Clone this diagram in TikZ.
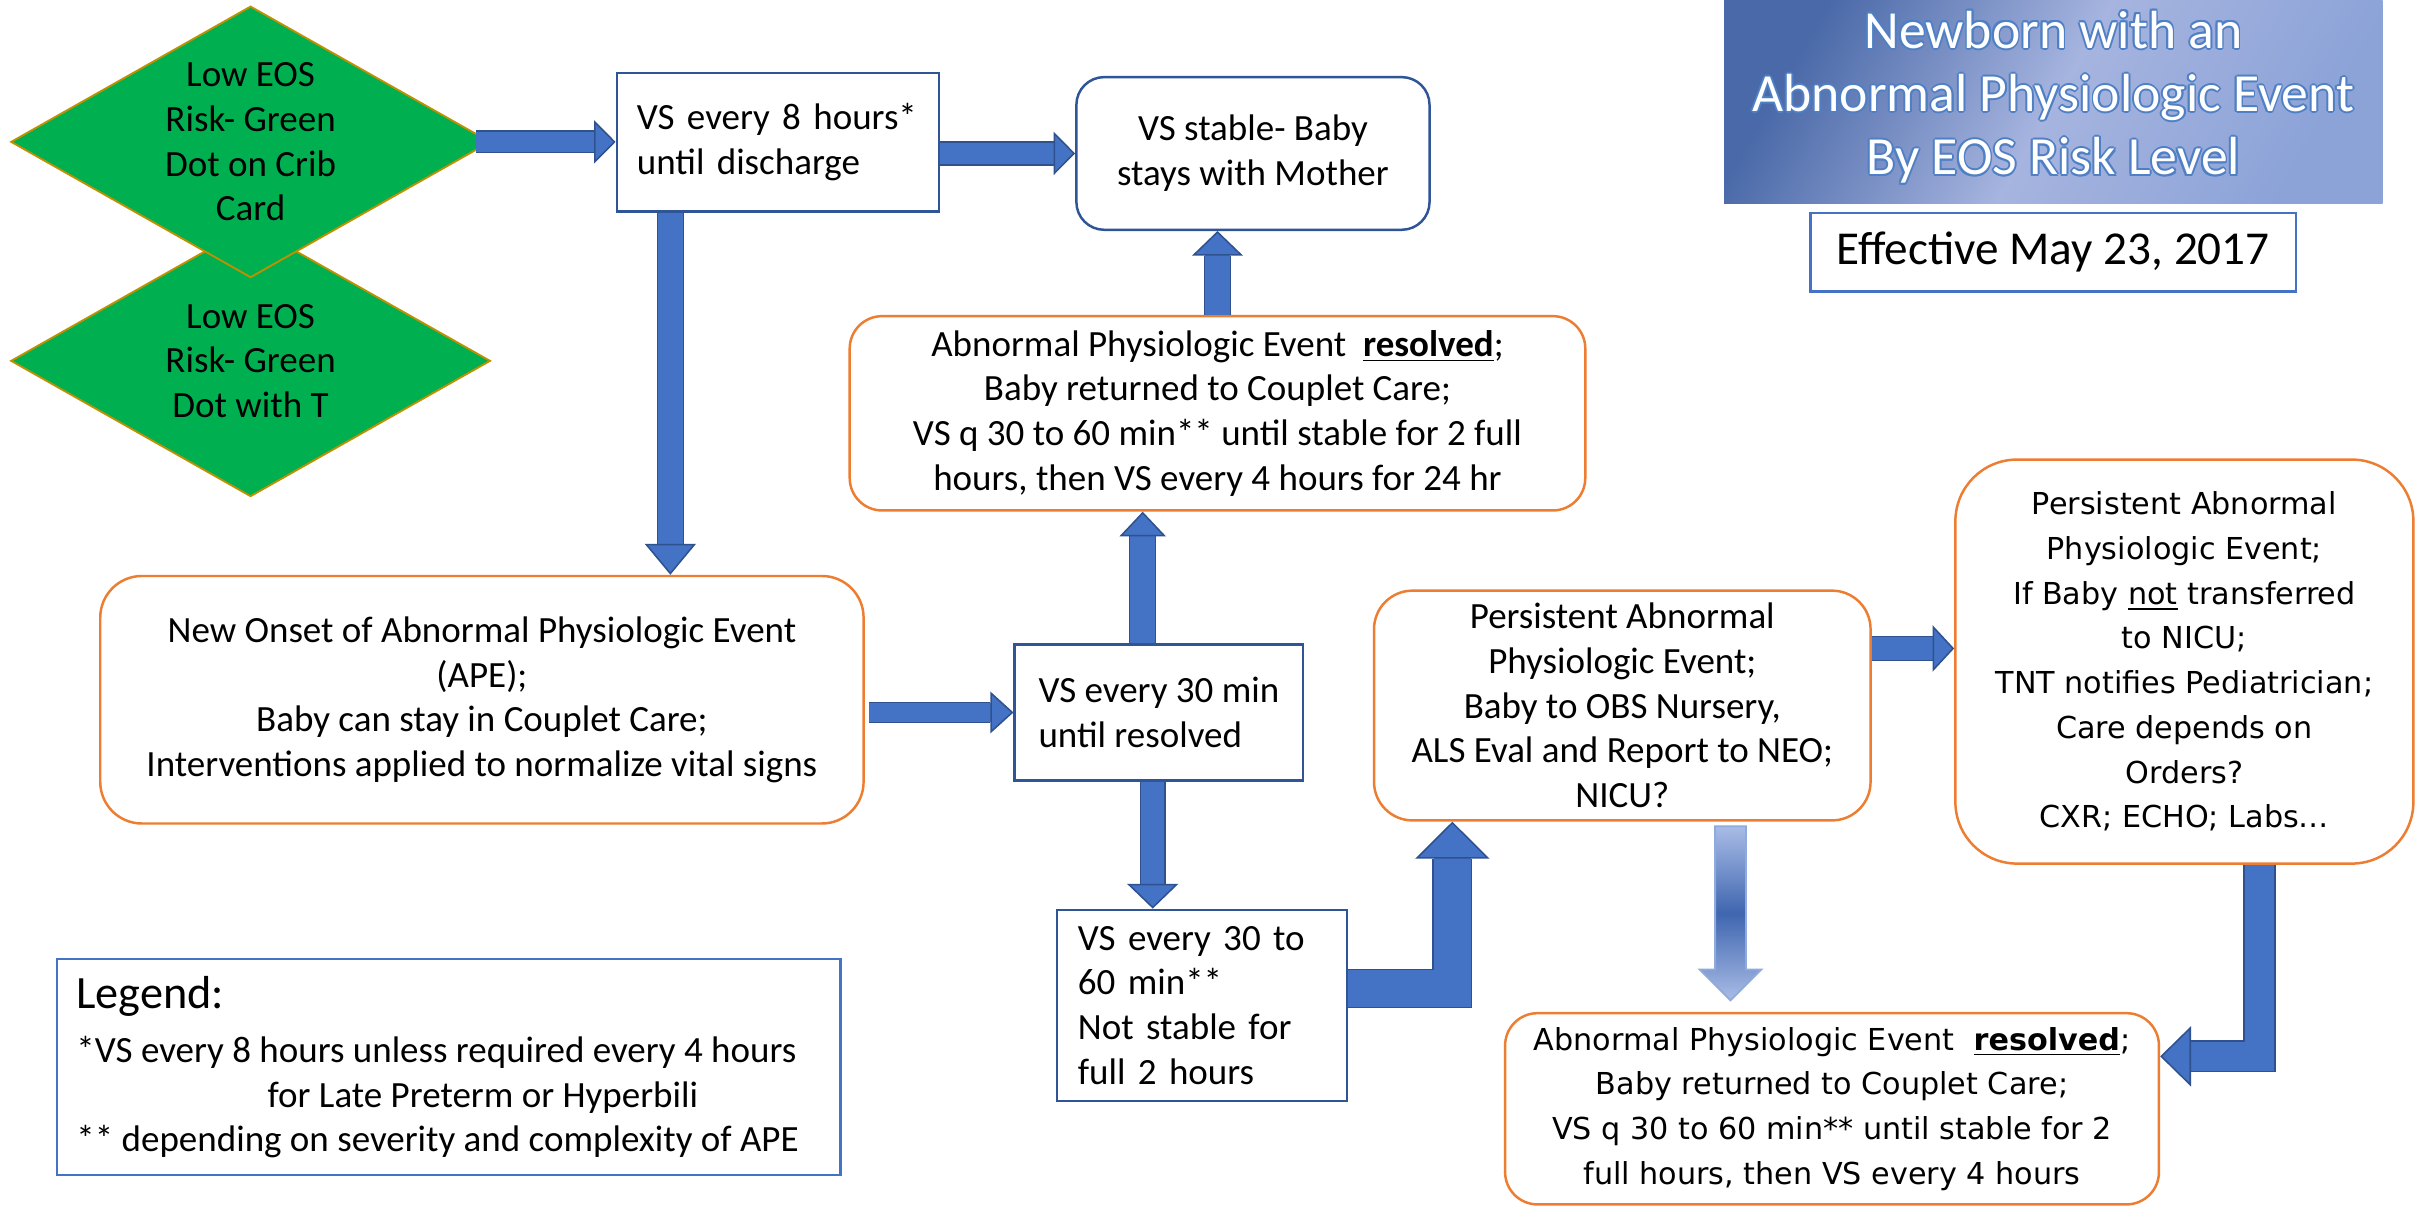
\documentclass[tikz,border=0pt]{standalone}
\usepackage{fontspec}
\setmainfont{Carlito}
\newfontfamily\verdfont{DejaVu Sans}
\usepackage{xcolor}
\usetikzlibrary{shapes.geometric,arrows.meta,calc,positioning}

\definecolor{arrowfill}{HTML}{4472C4}
\definecolor{arrowedge}{HTML}{2F528F}
\definecolor{boxblue}{HTML}{2F5597}
\definecolor{liteblue}{HTML}{4472C4}
\definecolor{boxorange}{HTML}{ED7D31}
\definecolor{dotgreen}{HTML}{00B050}
\definecolor{dotedge}{HTML}{BF9000}
\definecolor{titledark}{HTML}{4A69A8}
\definecolor{titlelite}{HTML}{A6B4DF}
\definecolor{titlemid}{HTML}{8CA3D8}
\definecolor{titleglow}{HTML}{4F7FC4}
\definecolor{gradlite}{HTML}{A9BCE6}
\definecolor{graddark}{HTML}{3F66B0}
\definecolor{gradedge}{HTML}{8FAADC}

\begin{document}
\begin{tikzpicture}[x=0.5pt,y=-0.5pt,
  txt/.style={font=\fontsize{12}{14.5}\selectfont},
  verd/.style={font=\verdfont\fontsize{9.8}{14.5}\selectfont},
  dot/.style={diamond,aspect=1.77,fill=dotgreen,draw=dotedge,line width=0.6pt,minimum width=155.5pt,minimum height=88pt,inner sep=0pt,align=center,txt},
  vsbox/.style={rectangle,draw=boxblue,line width=0.8pt,inner xsep=6.5pt,inner ysep=0pt,align=left,txt},
  rbox/.style={rectangle,rounded corners=#1,draw=boxorange,line width=0.8pt,inner sep=0pt,align=center,txt},
  titletxt/.style={align=center,inner sep=0pt,font=\fontsize{17.4}{20.5}\selectfont},
  blkarrow/.style n args={3}{draw=arrowfill,line width=#1,line join=miter,
    -{Triangle[width=#2,length=#3,line width=0.5pt,fill=arrowfill,color=arrowedge]},
    preaction={draw=arrowedge,line width=#1+0.9pt,arrows=-,shorten >=#3}}]
\path[fill=white,use as bounding box] (0,0) rectangle (1568,783);

\node[dot] (dwitht) at (162.5,234) {Low EOS\\Risk- Green\\Dot with T};
\node[dot] (dcrib) at (162.5,92) {Low EOS\\Risk- Green\\Dot on Crib\\Card};

\node[vsbox,text width=91.5pt,minimum height=44.75pt] (vseight) at (504.5,92.25) {VS every 8 hours*\\until discharge};
\node[rbox=9pt,draw=boxblue,minimum width=114.5pt,minimum height=49.5pt] (stable) at (812.5,99.5) {VS stable- Baby\\stays with Mother};
\node[rbox=10.5pt,minimum width=238.5pt,minimum height=63pt] (resolvedup) at (789.5,268) {Abnormal Physiologic Event~~\underline{\textbf{resolved}};\\Baby returned to Couplet Care;\\VS q 30 to 60 min** until stable for 2 full\\hours, then VS every 4 hours for 24 hr};
\node[rbox=13.5pt,minimum width=247.5pt,minimum height=80.25pt] (onset) at (312.5,453.75) {New Onset of Abnormal Physiologic Event\\(APE);\\Baby can stay in Couplet Care;\\Interventions applied to normalize vital signs};
\node[vsbox,inner xsep=0pt,minimum width=93.5pt,minimum height=44pt] (vsthirty) at (751.5,462) {VS every 30 min\\until resolved};
\node[vsbox,text width=80.5pt,inner xsep=6.75pt,minimum height=62pt] (vsnotstable) at (779.5,652) {VS every 30 to\\60 min**\\Not stable for\\full 2 hours};
\node[rbox=12.5pt,minimum width=161pt,minimum height=74.5pt] (persist) at (1052,457.5) {Persistent Abnormal\\Physiologic Event;\\Baby to OBS Nursery,\\ALS Eval and Report to NEO;\\NICU?};
\node[rbox=20pt,verd,minimum width=148.5pt,minimum height=131pt] (persistnicu) at (1416.5,429) {Persistent Abnormal\\Physiologic Event;\\If Baby \underline{not} transferred\\to NICU;\\TNT notifies Pediatrician;\\Care depends on\\Orders?\\CXR; ECHO; Labs…};
\node[rbox=10.5pt,verd,minimum width=212pt,minimum height=62pt] (resolveddown) at (1188,719) {Abnormal Physiologic Event~~\underline{\textbf{resolved}};\\Baby returned to Couplet Care;\\VS q 30 to 60 min** until stable for 2\\full hours, then VS every 4 hours};
\node[draw=liteblue,line width=0.8pt,minimum width=254pt,minimum height=70pt,inner xsep=0pt,align=left,txt] (legend) at (291,692) {{\fontsize{15}{18}\selectfont Legend:}\\[3pt]*VS every 8 hours unless required every 4 hours\hspace*{8pt}\mbox{}\\\hspace*{62pt}for Late Preterm or Hyperbili\\{}** depending on severity and complexity of APE};

\node[minimum width=213.5pt,minimum height=66pt,inner sep=0pt,top color=titledark,bottom color=titlemid,middle color=titlelite,shading angle=60] (title) at (1331.5,66) {};
\foreach \a in {0,45,...,315}
  \node[titletxt,text=titleglow] (glow\a) at ($(title.center)+(0,-3)+(\a:1.2)$) {Newborn with an\\Abnormal Physiologic Event\\By EOS Risk Level};
\node[titletxt,text=white] (titletext) at ($(title.center)+(0,-3)$) {Newborn with an\\Abnormal Physiologic Event\\By EOS Risk Level};
\node[draw=liteblue,line width=0.8pt,minimum width=157.5pt,minimum height=25.5pt,font=\fontsize{15.3}{18}\selectfont] (effective) at (1331.5,163.5) {Effective May 23, 2017};

\coordinate (vsdown) at ($(vseight.south west)+(35.5,0)$);
\coordinate (vsup) at ($(vsthirty.north)+(-10.5,0)$);
\coordinate (vsdowntwo) at ($(vsthirty.south)+(-4,0)$);
\coordinate (notstableout) at ($(vsnotstable.east)+(0,-11)$);
\coordinate (persistin) at ($(persist.south west)+(51.6,0)$);
\coordinate (persistout) at ($(persist.east)+(0,-37)$);
\coordinate (nicuout) at ($(persistnicu.south west)+(198,0)$);
\coordinate (resolvedin) at ($(resolveddown.east)+(0,-34)$);
\coordinate (gradtop) at ($(persist.south west)+(232,3)$);
\coordinate (gradtip) at ($(gradtop |- resolveddown.north)+(0,-7.5)$);

\draw[blkarrow={6.5pt}{14pt}{7pt},shorten <=-5pt] (dcrib.east) -- (dcrib.east -| vseight.west);
\draw[blkarrow={7pt}{14pt}{7pt}] (vseight.east |- stable.west) -- (stable.west);
\draw[blkarrow={8pt}{16.5pt}{10pt}] (vsdown) -- (vsdown |- onset.north);
\draw[blkarrow={6pt}{13.5pt}{7.5pt},shorten <=1.5pt] (onset.east |- vsthirty.west) -- (vsthirty.west);
\draw[blkarrow={8pt}{15pt}{8pt}] (vsup) -- (vsup |- resolvedup.south);
\draw[blkarrow={8pt}{16.5pt}{8pt}] (resolvedup.north) -- (resolvedup.north |- stable.south);
\draw[blkarrow={7.5pt}{16.5pt}{8pt}] (vsdowntwo) -- (vsdowntwo |- vsnotstable.north);
\draw[blkarrow={12pt}{24pt}{12pt}] (notstableout) -| (persistin);
\draw[blkarrow={7.5pt}{15pt}{7pt}] (persistout) -- (persistout -| persistnicu.west);
\draw[blkarrow={9.5pt}{19.5pt}{10pt}] (nicuout) |- (resolvedin);
\shadedraw[top color=gradlite,bottom color=gradlite,middle color=graddark,draw=gradedge,line width=0.6pt] ($(gradtop)+(-10,0)$) -- ($(gradtop)+(10,0)$) -- ($(gradtip)+(10,-20)$) -- ($(gradtip)+(20,-20)$) -- (gradtip) -- ($(gradtip)+(-20,-20)$) -- ($(gradtip)+(-10,-20)$) -- cycle;
\end{tikzpicture}
\end{document}
